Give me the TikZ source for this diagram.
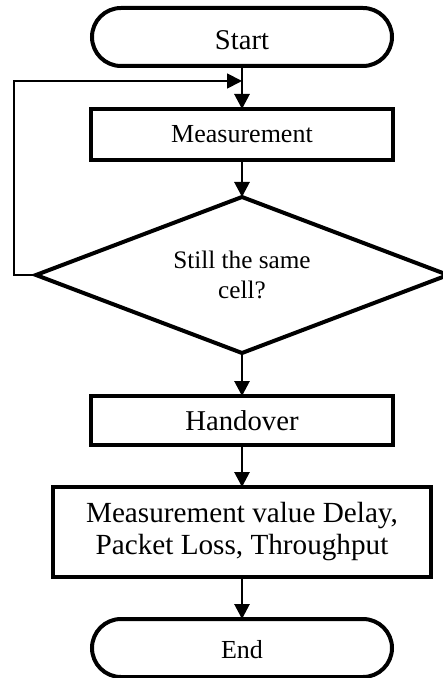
\documentclass[tikz,border=0pt]{standalone}
\usepackage{fontspec}
\setmainfont{Liberation Serif}
\usetikzlibrary{arrows.meta,positioning,shapes.misc,shapes.geometric}

\begin{document}
\begin{tikzpicture}[>={Triangle[length=7.5pt,width=7.5pt]}, node distance=21.5pt,
	term/.style={rounded rectangle,draw,line width=2pt,minimum width=150pt,minimum height=29pt,inner sep=0pt,outer sep=0pt},
	proc/.style={rectangle,draw,line width=2pt,minimum width=150.5pt,inner sep=0pt,outer sep=0pt,align=center},
	decide/.style={diamond,draw,line width=2pt,aspect=2.6,minimum width=206pt,minimum height=78pt,inner sep=0pt,outer sep=0pt,align=center},
	flow/.style={line width=1.4pt},
	back/.style={line width=0.9pt}]
		\useasboundingbox (-121pt,18.5pt) rectangle (100.5pt,-320.5pt);

		\node[term,font=\fontsize{14.3}{16}\selectfont,text height=13pt,text depth=0pt] (start) {Start};
		\node[proc,minimum height=25.5pt,font=\fontsize{13}{15}\selectfont] (measure) [below=of start] {Measurement};
		\node[decide,font=\fontsize{12.6}{15}\selectfont] (check) [below=18.5pt of measure] {Still the same\\cell?};
		\node[proc,minimum height=24.5pt,font=\fontsize{14.35}{16}\selectfont] (handover) [below=of check] {Handover};
		\node[proc,minimum width=188.5pt,minimum height=45pt,font=\fontsize{14.6}{16}\selectfont] (result) [below=21pt of handover] {Measurement value Delay,\\Packet Loss, Throughput};
		\node[term,font=\fontsize{13}{15}\selectfont,text height=10pt,text depth=0pt] (finish) [below=21pt of result] {End};
		\coordinate[below=7.5pt of start] (merge);

		\path[->,flow]
		(start) edge (measure)
		(measure) edge (check)
		(check) edge (handover)
		(handover) edge (result)
		(result) edge (finish);

		% back to measurement
		\draw[->,back] (check.west) -- ++(-11pt,0) |- (merge);
	\end{tikzpicture}
\end{document}
